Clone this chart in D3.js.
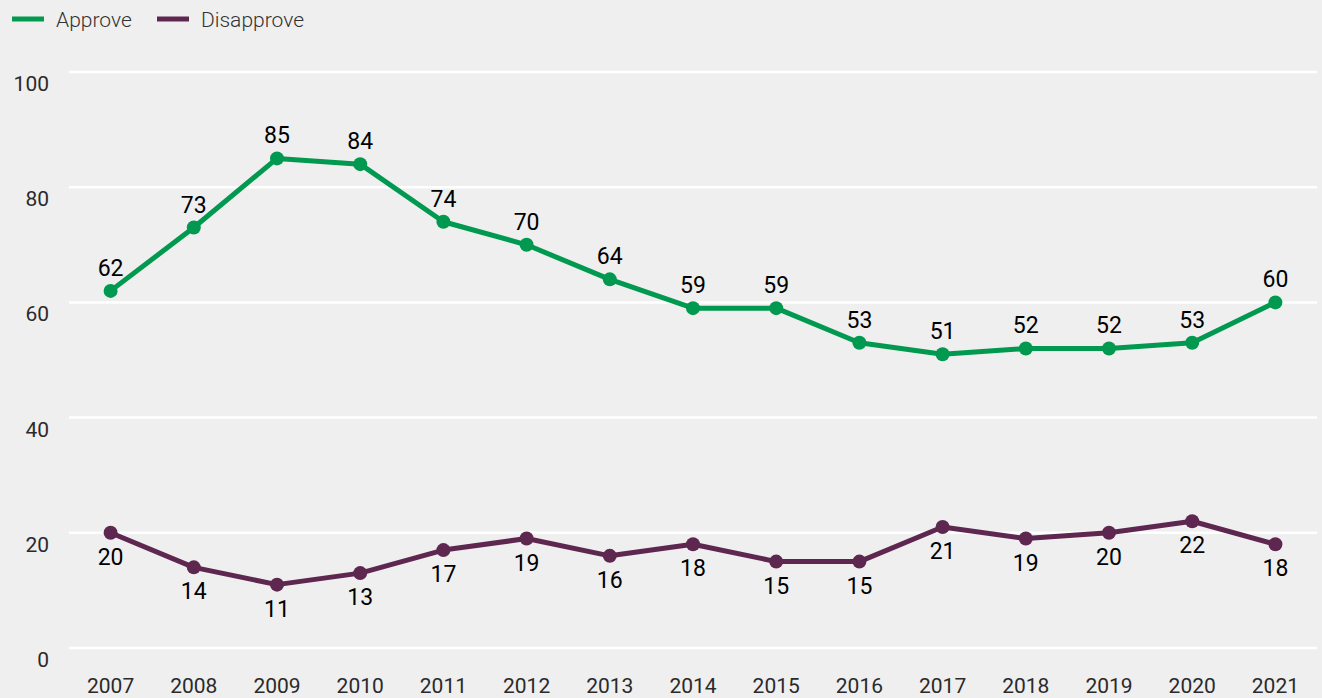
<!DOCTYPE html>
<html><head><meta charset="utf-8">
<script src="https://cdn.jsdelivr.net/npm/d3@7"></script>
<style>body{margin:0;background:#efefef;}svg{display:block;font-family:Roboto,"Liberation Sans",sans-serif;}</style>
</head><body>
<svg id="c" width="1322" height="698"></svg>
<script>
const years = [2007,2008,2009,2010,2011,2012,2013,2014,2015,2016,2017,2018,2019,2020,2021];
const approve = [62,73,85,84,74,70,64,59,59,53,51,52,52,53,60];
const disapprove = [20,14,11,13,17,19,16,18,15,15,21,19,20,22,18];
const yTicks = [0,20,40,60,80,100];
const seriesNames = ["Approve","Disapprove"];
const colors = ["#00994f","#5e2750"];

const svg = d3.select("#c");
svg.append("rect").attr("width",1322).attr("height",698).attr("fill","#efefef");
const x = d3.scaleBand().domain(years).range([69,1317]);
const y = d3.scaleLinear().domain([0,100]).range([648,72]);
const cx = d => x(d) + x.bandwidth()/2;

// grid
svg.append("g").selectAll("line").data(yTicks).join("line")
  .attr("x1",69).attr("x2",1317).attr("y1",d=>y(d)).attr("y2",d=>y(d))
  .attr("stroke","#ffffff").attr("stroke-width",2.5);
svg.append("g").selectAll("text").data(yTicks).join("text")
  .attr("x",49).attr("y",d=>y(d)+19).attr("text-anchor","end")
  .attr("font-size",21).attr("font-weight",400).attr("fill","#2a2a2a").text(d=>d);
// x labels
svg.append("g").selectAll("text").data(years).join("text")
  .attr("x",d=>cx(d)).attr("y",693).attr("text-anchor","middle")
  .attr("font-size",21).attr("font-weight",400).attr("fill","#2a2a2a").text(d=>d);

const series = [approve, disapprove];
series.forEach((vals,i)=>{
  const pts = years.map((yr,j)=>({yr,v:vals[j]}));
  svg.append("path").datum(pts)
    .attr("d", d3.line().x(d=>cx(d.yr)).y(d=>y(d.v)))
    .attr("fill","none").attr("stroke",colors[i]).attr("stroke-width",5).attr("stroke-linejoin","round");
  svg.append("g").selectAll("circle").data(pts).join("circle")
    .attr("cx",d=>cx(d.yr)).attr("cy",d=>y(d.v)).attr("r",7).attr("fill",colors[i]);
  svg.append("g").selectAll("text").data(pts).join("text")
    .attr("x",d=>cx(d.yr)).attr("y",d=> i===0 ? y(d.v)-15 : y(d.v)+32)
    .attr("text-anchor","middle").attr("font-size",23).attr("font-weight",400).attr("fill","#000").text(d=>d.v);
});

// legend
const lg = svg.append("g");
const lx = [12,157];
seriesNames.forEach((n,i)=>{
  lg.append("line").attr("x1",lx[i]).attr("x2",lx[i]+32).attr("y1",19).attr("y2",19)
    .attr("stroke",colors[i]).attr("stroke-width",5);
  lg.append("text").attr("x",lx[i]+44).attr("y",27).attr("font-size",21).attr("font-weight",300).attr("fill","#333").text(n);
});
</script>
</body></html>
